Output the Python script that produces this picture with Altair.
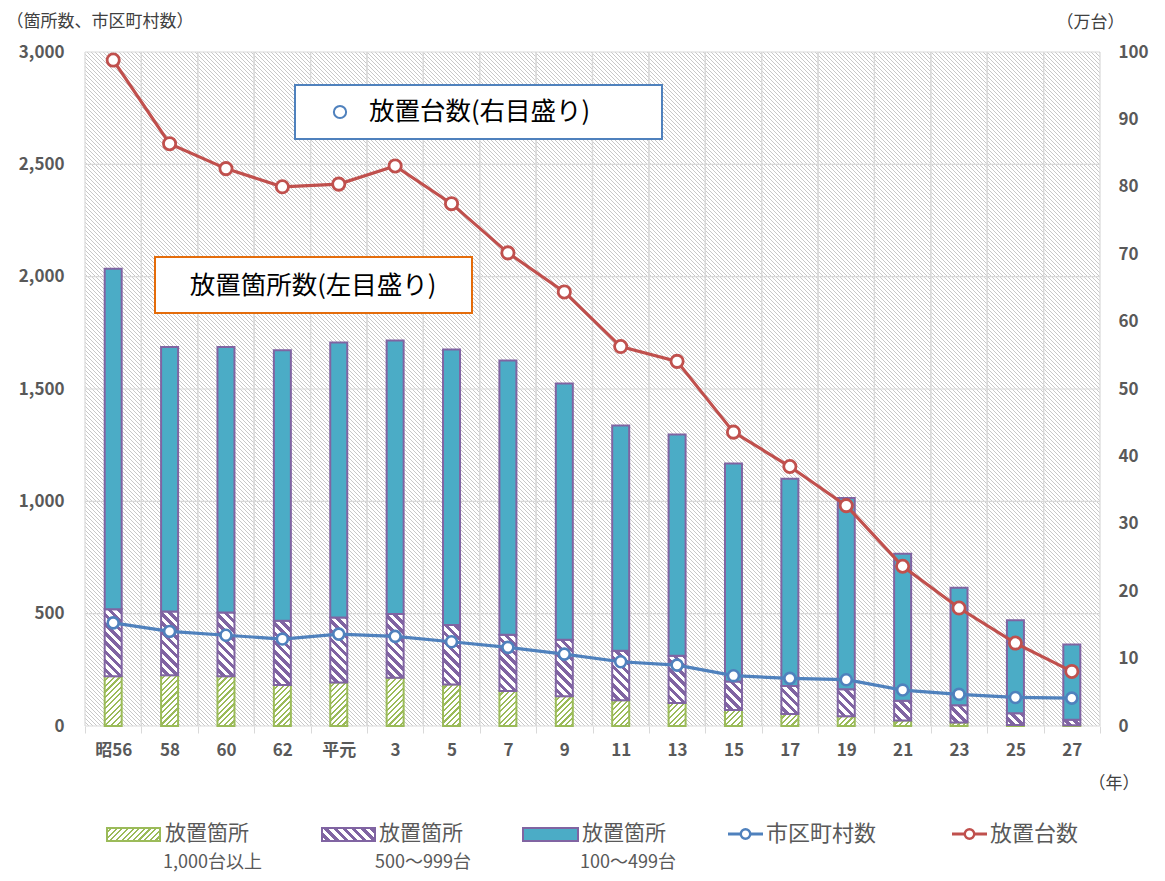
import math
import altair as alt
import pandas as pd

# ---------------- data ----------------
years = ["昭56", "58", "60", "62", "平元", "3", "5", "7", "9", "11", "13", "15",
         "17", "19", "21", "23", "25", "27"]
sites_1000 = [221, 226, 221, 182, 194, 215, 185, 156, 132, 115, 102, 71, 53, 43, 25, 16, 5, 3]
sites_500 = [299, 284, 284, 286, 289, 283, 265, 250, 252, 220, 211, 127, 125, 121, 87, 76, 52, 25]
sites_100 = [1515, 1177, 1182, 1204, 1224, 1218, 1226, 1221, 1140, 1002, 984, 970, 923, 851,
             655, 523, 414, 335]
municipalities = [459, 421, 404, 387, 409, 399, 375, 350, 320, 286, 271, 224, 212, 206,
                  160, 141, 127, 124]
bicycles = [98.8, 86.4, 82.7, 80.0, 80.4, 83.1, 77.5, 70.2, 64.4, 56.3, 54.1, 43.6, 38.5,
            32.7, 23.7, 17.5, 12.3, 8.1]
left_ticks = [0, 500, 1000, 1500, 2000, 2500, 3000]
right_ticks = [0, 10, 20, 30, 40, 50, 60, 70, 80, 90, 100]

W, H = 1015, 674
LMAX, RMAX = 3000, 100
BAR_W = 17
FONT = "Noto Sans CJK JP"
GREEN, PURPLE, AQUA = "#9bbb59", "#8064a2", "#4bacc6"
BLUE, RED = "#4f81bd", "#c0504d"
SQ2 = math.sqrt(2)


def stripe_grad(w, h, period, thick, color, bg, direction, phase=0.0):
    rho = h / w
    s = (1 + rho) / (1 + rho ** 2)
    L = (w + h) / SQ2
    if direction == "/":
        x1, y1, x2, y2 = 0, 0, s, s * rho
    else:
        x1, y1, x2, y2 = 0, 1, s, 1 - s * rho
    stops = [{"offset": 0, "color": bg}]
    i = 0
    while True:
        a = (i * period + period - thick + phase) / L
        c = ((i + 1) * period + phase) / L
        if a >= 1:
            break
        stops.append({"offset": round(a, 7), "color": bg})
        stops.append({"offset": round(a, 7), "color": color})
        if c >= 1:
            stops.append({"offset": 1, "color": color})
            break
        stops.append({"offset": round(c, 7), "color": color})
        stops.append({"offset": round(c, 7), "color": bg})
        i += 1
    return {"gradient": "linear", "x1": x1, "y1": y1, "x2": x2, "y2": y2, "stops": stops}


# long table of bar segments
rows = []
for i, y in enumerate(years):
    rows.append({"year": y, "seg": "g", "ord": 0, "value": sites_1000[i], "k": f"g{i}"})
    rows.append({"year": y, "seg": "p", "ord": 1, "value": sites_500[i], "k": f"p{i}"})
    rows.append({"year": y, "seg": "b", "ord": 2, "value": sites_100[i], "k": f"b{i}"})
bars_df = pd.DataFrame(rows)
lines_df = pd.DataFrame({"year": years, "muni": municipalities, "bike": bicycles})
years_df = pd.DataFrame({"year": years})
lt_df = pd.DataFrame({"v": left_ticks})

# per-segment hatch fills
conds = []
for r in rows:
    h = r["value"] * H / LMAX
    if h < 3 or r["seg"] == "b":
        continue
    if r["seg"] == "g":
        g = stripe_grad(BAR_W, h, 4.0, 1.6, GREEN, "#ffffff", "/")
    else:
        g = stripe_grad(BAR_W, h, 6.5, 3.2, PURPLE, "#ffffff", "\\")
    conds.append({"test": f"datum.k == '{r['k']}'", "value": g})
conds.append({"test": "datum.seg == 'g'", "value": "#c9dc9e"})
conds.append({"test": "datum.seg == 'p'", "value": "#b7a6cc"})

XSCALE = alt.Scale(domain=years, paddingInner=0, paddingOuter=0)
XTITLE = "（年）"
YLSCALE = alt.Scale(domain=[0, LMAX], nice=False)
YLTITLE = "（箇所数、市区町村数）"
TITLE_KW = dict(titleAngle=0, titleAlign="left", titleBaseline="middle", titleFontSize=17,
                titleFontWeight="normal", titleColor="#404040", titleFont=FONT)

x_axis = alt.Axis(
    title=XTITLE, titleX=1003, titleY=57, **TITLE_KW,
    labelAngle=0, labelFontSize=17, labelPadding=9, tickBand="extent", ticks=True,
    tickSize=7, tickColor="#d9d9d9", domain=False, grid=False,
)
yl_axis = alt.Axis(
    title=YLTITLE, titleX=-79, titleY=-31, **TITLE_KW,
    values=left_ticks, format=",d", ticks=False, tickSize=0, domain=False, grid=False,
    labelPadding=21, labelFontSize=17,
)
yr_axis = alt.Axis(
    title="（万台）", titleX=-44, titleY=-30, **TITLE_KW,
    values=right_ticks, format="d", ticks=False, tickSize=0, domain=False, grid=False,
    labelPadding=18, labelFontSize=17, orient="right",
)


def X(field="year:N", **kw):
    return alt.X(field, scale=XSCALE, sort=years, title=XTITLE, axis=x_axis, **kw)


def YL(field):
    return alt.Y(field, scale=YLSCALE, title=YLTITLE, axis=yl_axis)


one = alt.Data(values=[{"a": 1}])

background = alt.Chart(one).mark_rect(
    fill=stripe_grad(W, H, 4 / SQ2, 1 / SQ2, "#c8c8c8", "#ffffff", "\\", phase=0.5 / SQ2)
).encode(x=alt.value(0), x2=alt.value(W), y=alt.value(0), y2=alt.value(H))

hgrid = alt.Chart(lt_df).mark_rule(color="#d9d9d9", strokeWidth=1.2).encode(y=YL("v:Q"))
vgrid0 = alt.Chart(years_df).mark_rule(color="#d9d9d9", strokeWidth=1.2).encode(
    x=X(bandPosition=0))
vgrid1 = alt.Chart(years_df).mark_rule(color="#d9d9d9", strokeWidth=1.2).encode(
    x=X(bandPosition=1))

bars = alt.Chart(bars_df).mark_bar(size=BAR_W, strokeWidth=2).encode(
    x=X(),
    y=alt.Y("value:Q", stack="zero", scale=YLSCALE, title=YLTITLE, axis=yl_axis),
    detail="seg:N",
    order=alt.Order("ord:Q"),
    fill=alt.FillValue(value=AQUA, condition=conds),
    stroke=alt.condition("datum.seg == 'g'", alt.value(GREEN), alt.value(PURPLE)),
)

muni_line = alt.Chart(lines_df).mark_line(
    color=BLUE, strokeWidth=3.2,
    point=alt.OverlayMarkDef(filled=True, fill="white", stroke=BLUE, strokeWidth=2.6, size=120),
).encode(x=X(), y=YL("muni:Q"))

# annotation boxes
box_blue = alt.Chart(one).mark_rect(fill="white", stroke=BLUE, strokeWidth=2).encode(
    x=alt.value(210), x2=alt.value(577), y=alt.value(33), y2=alt.value(87))
box_blue_dot = alt.Chart(one).mark_point(
    shape="circle", filled=False, stroke=BLUE, strokeWidth=2, size=150, opacity=1
).encode(x=alt.value(255), y=alt.value(60))
box_blue_text = alt.Chart(one).mark_text(
    align="left", baseline="middle", fontSize=25.5, font=FONT, color="#000000"
).encode(x=alt.value(284), y=alt.value(60), text=alt.value("放置台数(右目盛り)"))

box_orange = alt.Chart(one).mark_rect(fill="white", stroke="#e46c0a", strokeWidth=2).encode(
    x=alt.value(70), x2=alt.value(387), y=alt.value(205), y2=alt.value(261))
box_orange_text = alt.Chart(one).mark_text(
    align="center", baseline="middle", fontSize=25.5, font=FONT, color="#000000"
).encode(x=alt.value(228), y=alt.value(234), text=alt.value("放置箇所数(左目盛り)"))

# manual legend
LY1, LY2 = 782, 811
legend_layers = []
sw = [(22, 75, stripe_grad(53, 13, 4.0, 1.6, GREEN, "#ffffff", "/"), GREEN),
      (237, 290, stripe_grad(53, 13, 6.5, 3.2, PURPLE, "#ffffff", "\\"), PURPLE),
      (438, 493, AQUA, PURPLE)]
for x0, x1, fill, strk in sw:
    legend_layers.append(alt.Chart(one).mark_rect(fill=fill, stroke=strk, strokeWidth=2).encode(
        x=alt.value(x0), x2=alt.value(x1), y=alt.value(LY1 - 6), y2=alt.value(LY1 + 7)))
leg_text = [(80, LY1, "放置箇所", 21), (78, LY2, "1,000台以上", 18),
            (294, LY1, "放置箇所", 21), (290, LY2, "500～999台", 18),
            (497, LY1, "放置箇所", 21), (495, LY2, "100～499台", 18),
            (681, LY1, "市区町村数", 22), (905, LY1, "放置台数", 22)]
for tx, ty, t, fs in leg_text:
    legend_layers.append(alt.Chart(one).mark_text(
        align="left", baseline="middle", fontSize=fs, font=FONT, color="#595959"
    ).encode(x=alt.value(tx), y=alt.value(ty), text=alt.value(t)))
for x0, x1, col in [(643, 678, BLUE), (867, 902, RED)]:
    legend_layers.append(alt.Chart(one).mark_rule(color=col, strokeWidth=3).encode(
        x=alt.value(x0), x2=alt.value(x1), y=alt.value(LY1)))
    legend_layers.append(alt.Chart(one).mark_point(
        shape="circle", filled=True, fill="white", stroke=col, strokeWidth=2.4, size=90, opacity=1
    ).encode(x=alt.value((x0 + x1) / 2), y=alt.value(LY1)))

left = alt.layer(background, hgrid, vgrid0, vgrid1, bars, muni_line,
                 box_blue, box_blue_dot, box_blue_text, box_orange, box_orange_text,
                 *legend_layers)

right = alt.Chart(lines_df).mark_line(
    color=RED, strokeWidth=3.2,
    point=alt.OverlayMarkDef(filled=True, fill="white", stroke=RED, strokeWidth=2.8, size=150),
).encode(
    x=X(),
    y=alt.Y("bike:Q", scale=alt.Scale(domain=[0, RMAX], nice=False), title="（万台）",
            axis=yr_axis),
)

chart = alt.layer(left, right).resolve_scale(y="independent").properties(
    width=W, height=H,
    autosize=alt.AutoSizeParams(type="none"),
    padding={"left": 77, "top": 44, "right": 52, "bottom": 147},
).configure_view(stroke=None).configure_axis(
    labelFont=FONT, labelFontWeight="bold", labelColor="#595959",
).configure_text(font=FONT)

chart.save("out.html", embed_options={"renderer": "svg", "actions": False})
